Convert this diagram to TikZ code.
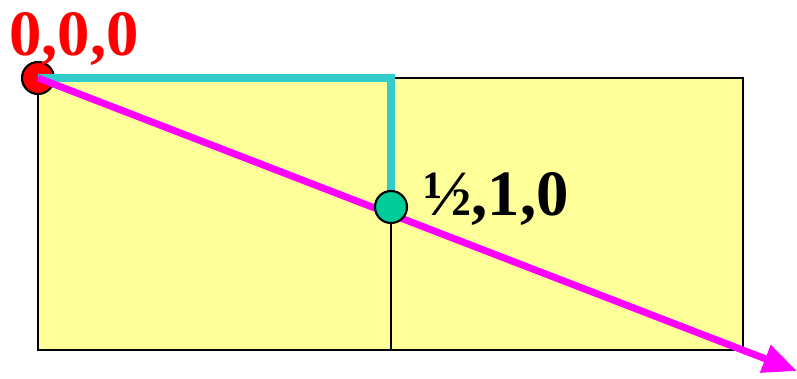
\documentclass[tikz,border=0pt]{standalone}
\usepackage{fontspec}
\setmainfont{Liberation Serif}
\usetikzlibrary{arrows.meta}
\definecolor{cellyellow}{RGB}{255,255,153}
\definecolor{pathcyan}{RGB}{51,204,204}
\definecolor{dirmagenta}{RGB}{255,0,255}
\definecolor{ballgreen}{RGB}{0,204,153}
\tikzset{
  ball/.style={circle,draw=black,line width=1.5pt,inner sep=0pt,minimum size=0.8cm},
  coordlabel/.style={anchor=base west,inner sep=0pt,font=\fontsize{46}{46}\selectfont\bfseries}
}

\begin{document}
\begin{tikzpicture}[x=0.025cm,y=-0.025cm]
\useasboundingbox (0,0) rectangle (797,378);
% cell
\draw[fill=cellyellow,line width=1.6pt] (38,78) rectangle (743,350);
\coordinate (o) at (38,78);
\coordinate (h) at (391,207);
\coordinate (tip) at (797,371);
\draw[line width=1.6pt] (h) -- (391,350);

\node[ball,fill=red] (origin) at (o) {};
\node[coordlabel,text=red] (olabel) at (9,55) {0,0,0};

% path to the half point
\draw[pathcyan,line width=5.5pt] (origin.center) -| (h);
% direction
\draw[dirmagenta,line width=5pt,-{Triangle[length=0.85cm,width=0.7cm]}] (origin.center) -- (tip);

\node[ball,fill=ballgreen] (half) at (h) {};
\node[coordlabel] (hlabel) at (423,215) {½,1,0};
\end{tikzpicture}
\end{document}
